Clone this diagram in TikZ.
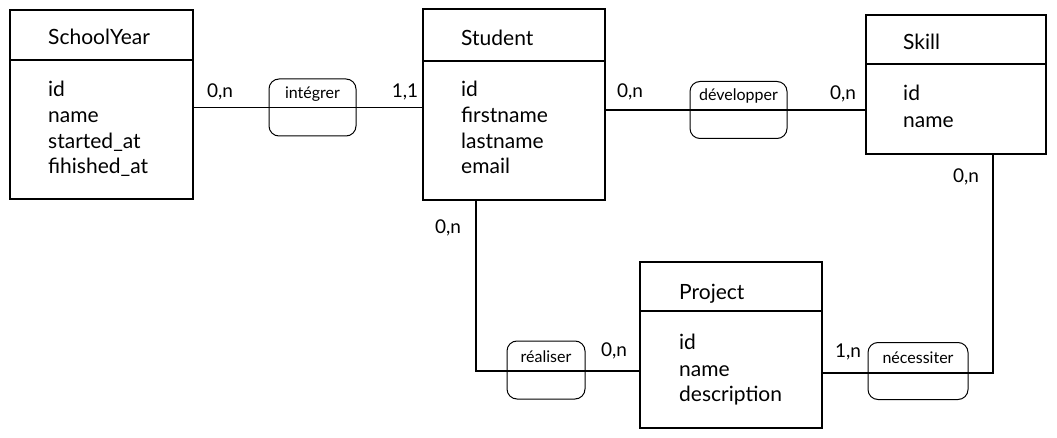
\documentclass[tikz,border=0pt]{standalone}
\usepackage{fontspec}
\setmainfont{Lato}
\begin{document}
\begin{tikzpicture}[x=1pt,y=-1pt,
  entity/.style={draw, line width=1.2pt, inner sep=0pt},
  rel/.style={draw, line width=1pt, rounded corners=10pt, inner sep=0pt},
  title/.style={anchor=base west, inner sep=0pt, font=\fontsize{21}{25}\selectfont},
  attr/.style={anchor=base west, inner sep=0pt, font=\fontsize{21}{25}\selectfont},
  card/.style={inner sep=0pt, font=\fontsize{19}{22}\selectfont},
  rlabel/.style={inner sep=0pt, font=\fontsize{16}{19}\selectfont},
  conn/.style={line width=1.2pt}]
\useasboundingbox (0,0) rectangle (1057,438);

% entities
\node[entity, minimum width=183pt, minimum height=189pt] (sy) at (101.5,104.5) {};
\node[entity, minimum width=182pt, minimum height=191pt] (st) at (514,104.5) {};
\node[entity, minimum width=180pt, minimum height=139pt] (sk) at (956,84.5) {};
\node[entity, minimum width=182pt, minimum height=166pt] (pr) at (731,345) {};

% dividers
\draw[conn] (sy.west |- 0,60) -- (sy.east |- 0,60);
\draw[conn] (st.west |- 0,61) -- (st.east |- 0,61);
\draw[conn] (sk.west |- 0,64) -- (sk.east |- 0,64);
\draw[conn] (pr.west |- 0,311) -- (pr.east |- 0,311);

% titles
\node[title] (sy-t) at (48,45) {SchoolYear};
\node[title] (st-t) at (461,46) {Student};
\node[title] (sk-t) at (903,50) {Skill};
\node[title] (pr-t) at (679,299) {Project};

% attributes
\node[attr] (sy-a1) at (48,97) {id};
\node[attr] (sy-a2) at (48,123) {name};
\node[attr] (sy-a3) at (48,149) {started\_at};
\node[attr] (sy-a4) at (48,174) {fihished\_at};

\node[attr] (st-a1) at (461,97) {id};
\node[attr] (st-a2) at (461,123) {firstname};
\node[attr] (st-a3) at (461,149) {lastname};
\node[attr] (st-a4) at (461,174) {email};

\node[attr] (sk-a1) at (903,101) {id};
\node[attr] (sk-a2) at (903,128) {name};

\node[attr] (pr-a1) at (679,349) {id};
\node[attr] (pr-a2) at (679,376) {name};
\node[attr] (pr-a3) at (679,401) {description};

% relationship boxes
\node[rel, minimum width=87pt, minimum height=57pt] (integ) at (312.5,107.5) {};
\node[rel, minimum width=97pt, minimum height=57pt] (dev) at (738.5,110) {};
\node[rel, minimum width=78pt, minimum height=58pt] (real) at (546,370) {};
\node[rel, minimum width=100pt, minimum height=57pt] (nec) at (918,371) {};

\node[rlabel] (integ-l) at (312.5,94) {intégrer};
\node[rlabel] (dev-l) at (738.5,96) {développer};
\node[rlabel] (real-l) at (546,357) {réaliser};
\node[rlabel] (nec-l) at (918,358) {nécessiter};

% connectors
\draw[conn] (integ.center -| sy.east) -- (integ.center -| st.west);
\draw[conn] (dev.center -| st.east) -- (dev.center -| sk.west);
\coordinate (c1) at (476,371);
\draw[conn] (st.south -| c1) -- (c1) -- (pr.west |- c1);
\coordinate (c2) at (993,373);
\draw[conn] (sk.south -| c2) -- (c2) -- (pr.east |- c2);

% cardinalities
\node[card] (k1) at (220,92) {0,n};
\node[card] (k2) at (405,92) {1,1};
\node[card] (k3) at (630,92) {0,n};
\node[card] (k4) at (843,94) {0,n};
\node[card] (k5) at (448,228) {0,n};
\node[card] (k6) at (614,351) {0,n};
\node[card] (k7) at (966,177) {0,n};
\node[card] (k8) at (848,352) {1,n};
\end{tikzpicture}
\end{document}
